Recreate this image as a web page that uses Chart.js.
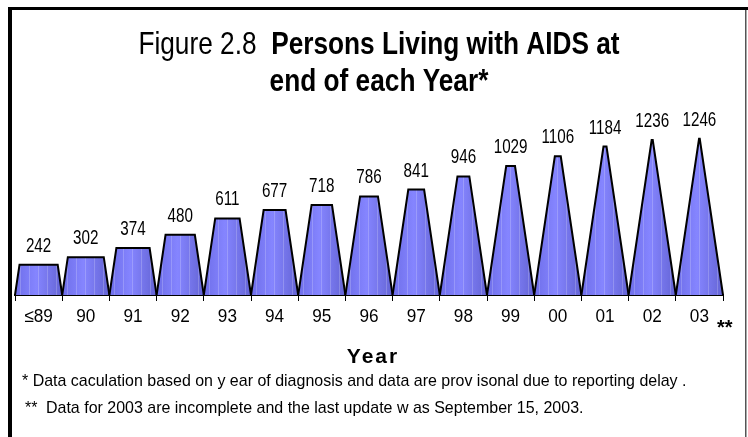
<!DOCTYPE html>
<html>
<head>
<meta charset="utf-8">
<script src="https://cdn.jsdelivr.net/npm/chart.js@4.4.1/dist/chart.umd.min.js"></script>
<style>
  html, body { margin: 0; padding: 0; background: #fff; }
  #wrap { position: relative; width: 748px; height: 437px; overflow: hidden; }
</style>
</head>
<body>
<div id="wrap"><canvas id="chart" width="748" height="437"></canvas></div>
<script>
// ── Data ─────────────────────────────────────────────────────
const YEARS   = ['≤89', '90', '91', '92', '93', '94', '95', '96', '97', '98', '99', '00', '01', '02', '03'];
const PERSONS = [242, 302, 374, 480, 611, 677, 718, 786, 841, 946, 1029, 1106, 1184, 1236, 1246];

const TITLE_PLAIN = 'Figure 2.8';
const TITLE_BOLD  = 'Persons Living with AIDS at';
const TITLE_LINE2 = 'end of each Year*';
const AXIS_TITLE  = 'Year';
const NOTE_1 = '* Data caculation based on y ear of diagnosis and data are prov isonal due to reporting delay .';
const NOTE_2_MARK = '**';
const NOTE_2 = 'Data for 2003 are incomplete and the last update w as September 15, 2003.';

// value at which the pyramid sides meet
const APEX = 1265;
const FONT = '"Liberation Sans", Arial, sans-serif';
const SQUEEZE = 0.82;   // Arial Narrow look

// draw horizontally condensed text
function narrowText(ctx, text, x, y, font, align, sx = SQUEEZE) {
  ctx.save();
  ctx.font = font;
  ctx.textAlign = 'left';
  ctx.textBaseline = 'alphabetic';
  const w = ctx.measureText(text).width * sx;
  const left = align === 'center' ? x - w / 2 : align === 'right' ? x - w : x;
  ctx.translate(left, y);
  ctx.scale(sx, 1);
  ctx.fillText(text, 0, 0);
  ctx.restore();
  return w;
}

function narrowWidth(ctx, text, font, sx = SQUEEZE) {
  ctx.save();
  ctx.font = font;
  const w = ctx.measureText(text).width * sx;
  ctx.restore();
  return w;
}

// ── Pyramid bars + value labels ──────────────────────────────
const pyramidPlugin = {
  id: 'pyramids',
  afterDatasetsDraw(chart) {
    const ctx  = chart.ctx;
    const meta = chart.getDatasetMeta(0);
    const vals = chart.data.datasets[0].data;
    meta.data.forEach((el, i) => {
      const { x, y, base, width } = el.getProps(['x', 'y', 'base', 'width'], true);
      const half = width / 2;
      const topHalf = half * Math.max(0, 1 - vals[i] / APEX);

      const trace = () => {
        ctx.beginPath();
        ctx.moveTo(x - half, base);
        ctx.lineTo(x - topHalf, y);
        ctx.lineTo(x + topHalf, y);
        ctx.lineTo(x + half, base);
      };

      ctx.save();
      trace();
      ctx.closePath();
      const g = ctx.createLinearGradient(x - half, 0, x + half, 0);
      g.addColorStop(0,    '#6e6ee9');
      g.addColorStop(0.45, '#8585ff');
      g.addColorStop(1,    '#6464d4');
      ctx.fillStyle = g;
      ctx.fill();

      // faint vertical streaks
      ctx.clip();
      ctx.strokeStyle = 'rgba(255,255,255,0.2)';
      ctx.lineWidth = 1;
      for (let sx = x - half + 5; sx < x + half; sx += 9) {
        ctx.beginPath();
        ctx.moveTo(Math.round(sx) + 0.5, y);
        ctx.lineTo(Math.round(sx) + 0.5, base);
        ctx.stroke();
      }
      ctx.restore();

      // outline (sides and top)
      ctx.save();
      trace();
      ctx.strokeStyle = '#000';
      ctx.lineWidth = 2;
      ctx.lineJoin = 'miter';
      ctx.stroke();
      ctx.fillStyle = '#000';
      narrowText(ctx, String(vals[i]), x, y - 13, '19.5px ' + FONT, 'center', 0.78);
      ctx.restore();
    });

    // category labels under the axis
    const xs = chart.scales.x;
    ctx.save();
    ctx.fillStyle = '#000';
    YEARS.forEach((lab, i) => {
      narrowText(ctx, lab, xs.getPixelForValue(i), 322, '18.5px ' + FONT, 'center', 0.93);
    });
    ctx.restore();
  }
};

// ── Frame, titles and footnotes ──────────────────────────────
const decorPlugin = {
  id: 'decor',
  afterDraw(chart) {
    const ctx = chart.ctx;
    ctx.save();
    // frame
    ctx.fillStyle = '#000';
    ctx.fillRect(8, 7, 740, 3);
    ctx.fillRect(8, 7, 4, 430);
    ctx.fillStyle = '#555';
    ctx.fillRect(745, 10, 1.5, 427);

    ctx.fillStyle = '#000';
    // title line 1: plain + bold
    const plainFont = '32px ' + FONT;
    const boldFont  = 'bold 32px ' + FONT;
    const w1 = narrowWidth(ctx, TITLE_PLAIN + '  ', plainFont);
    const w2 = narrowWidth(ctx, TITLE_BOLD, boldFont);
    const x0 = 379 - (w1 + w2) / 2;
    narrowText(ctx, TITLE_PLAIN + '  ', x0, 54, plainFont, 'left');
    narrowText(ctx, TITLE_BOLD, x0 + w1, 54, boldFont, 'left');
    narrowText(ctx, TITLE_LINE2, 379, 91, boldFont, 'center');

    // marker after last category
    narrowText(ctx, '**', 717, 334, 'bold 20px ' + FONT, 'left', 1);

    // axis title
    ctx.textAlign = 'center';
    ctx.textBaseline = 'alphabetic';
    ctx.font = 'bold 21px ' + FONT;
    ctx.letterSpacing = '2px';
    ctx.fillText(AXIS_TITLE, 373, 363);
    ctx.letterSpacing = '0px';

    // footnotes
    narrowText(ctx, NOTE_1, 22, 386, '17px ' + FONT, 'left', 0.94);
    narrowText(ctx, NOTE_2_MARK, 25, 413, '17px ' + FONT, 'left', 0.94);
    narrowText(ctx, NOTE_2, 46, 413, '17px ' + FONT, 'left', 0.94);
    ctx.restore();
  }
};

new Chart(document.getElementById('chart').getContext('2d'), {
  type: 'bar',
  data: {
    labels: YEARS,
    datasets: [{
      label: 'Persons living with AIDS',
      data: PERSONS,
      backgroundColor: 'rgba(0,0,0,0)',
      borderWidth: 0,
      categoryPercentage: 1,
      barPercentage: 1,
    }],
  },
  options: {
    responsive: false,
    animation: false,
    devicePixelRatio: 1,
    layout: { padding: { left: 15, right: 25, top: 132, bottom: 0 } },
    plugins: { legend: { display: false }, tooltip: { enabled: false } },
    scales: {
      y: { display: false, min: 0, max: 1300 },
      x: {
        afterFit: (s) => { s.height = 142; },
        grid: { drawOnChartArea: false, drawTicks: true, tickLength: 6, color: '#000', lineWidth: 1, offset: true },
        border: { color: '#000', width: 2 },
        ticks: { display: false },
      },
    },
  },
  plugins: [pyramidPlugin, decorPlugin],
});
</script>
</body>
</html>
